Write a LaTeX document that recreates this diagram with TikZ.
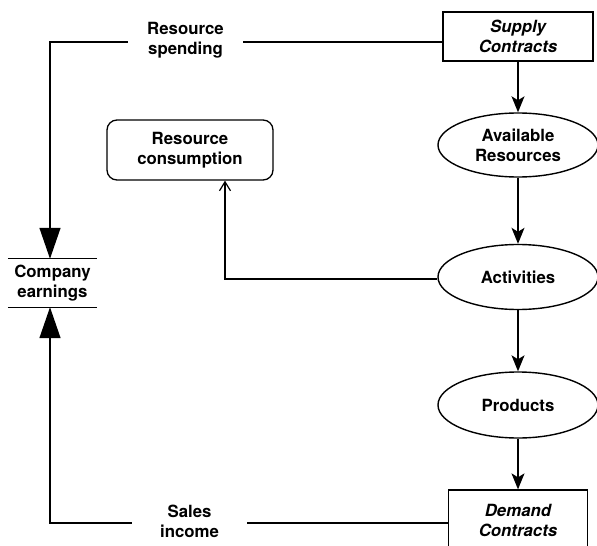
\documentclass[tikz,border=0pt]{standalone}
\usepackage{fontspec}
\setmainfont{TeX Gyre Heros}
\usetikzlibrary{arrows.meta,shapes.geometric,calc}
\tikzset{
  lbl/.style={font=\fontsize{16.8}{20}\selectfont\bfseries, align=center},
  contract/.style={lbl, draw, line width=1.3pt, rectangle, inner sep=0pt, font=\fontsize{16.8}{20}\selectfont\bfseries\itshape},
  ell/.style={lbl, draw, line width=1.4pt, ellipse, inner sep=0pt, minimum width=160pt},
  rbox/.style={lbl, draw, line width=1.3pt, rounded corners=10pt, inner sep=0pt, minimum width=166pt, minimum height=60pt},
  flowtext/.style={lbl, inner sep=0pt, minimum width=115pt},
  conn/.style={line width=1.3pt},
  midarrow/.style={conn, -{Stealth[length=16pt,width=13pt,inset=4pt]}},
  bigarrow/.style={conn, -{Triangle[length=31pt,width=21pt]}},
  thinarrow/.style={conn, -{Straight Barb[length=9pt,width=11pt,line width=1.2pt]}}
}
\begin{document}
\begin{tikzpicture}[x=1pt,y=-1pt]
\useasboundingbox (0,0) rectangle (597,546);
\clip (0,0) rectangle (597,546);
% nodes
\node[contract, minimum width=150pt, minimum height=49pt] (supply) at (518,36.5) {Supply\\Contracts};
\node[ell, minimum height=64pt] (avail) at (518,145) {Available\\Resources};
\node[ell, minimum height=65pt] (act) at (518,277) {Activities};
\node[ell, minimum height=66pt] (prod) at (518,405) {Products};
\node[contract, minimum width=139pt, minimum height=60pt] (demand) at (518,520) {Demand\\Contracts};
\node[rbox] (rc) at (190,150) {Resource\\consumption};
\node[lbl, minimum width=89pt, minimum height=48pt, inner sep=0pt] (ce) at (52.5,283) {Company\\earnings};
\node[flowtext] (rs) at (185.5,40) {Resource\\spending};
\node[flowtext] (si) at (189.5,521) {Sales\\income};
\coordinate (rsy) at (0,42);
\coordinate (siy) at (0,523);
\coordinate (lx) at (50,0);
% company earnings rules
\draw[conn] (ce.north west) -- (ce.north east);
\draw[conn] (ce.south west) -- (ce.south east);
% main column
\draw[midarrow] (supply.south) -- (avail.north);
\draw[midarrow] (avail.south) -- (act.north);
\draw[midarrow] (act.south) -- (prod.north);
\draw[midarrow] (prod.south) -- (demand.north);
% resource spending
\draw[conn] (supply.west |- rsy) -- (rs.east |- rsy);
\draw[bigarrow] (rs.west |- rsy) -| (lx |- ce.north);
% sales income
\draw[conn] (demand.west |- siy) -- (si.east |- siy);
\draw[bigarrow] (si.west |- siy) -| (lx |- ce.south);
% resource consumption
\draw[thinarrow] (act.west |- 0,279) -| ($(rc.south)+(35,0)$);
\end{tikzpicture}
\end{document}
